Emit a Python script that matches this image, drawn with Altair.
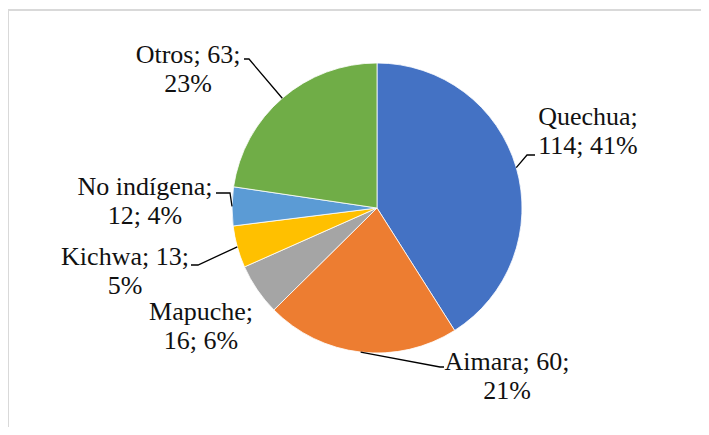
import math
import altair as alt
import pandas as pd

# ---- data ----
categories = ["Quechua", "Aimara", "Mapuche", "Kichwa", "No indígena", "Otros"]
counts = [114, 60, 16, 13, 12, 63]
percents = [41, 21, 6, 5, 4, 23]
colors = ["#4472C4", "#ED7D31", "#A5A5A5", "#FFC000", "#5B9BD5", "#70AD47"]

# ---- layout (not data) ----
W, H = 693, 419
CX, CY, R = 369, 200, 145
FONT = "Liberation Serif"
FS = 26
LH = 29
# how many label parts go on the first line
first_line_parts = [1, 2, 1, 2, 1, 2]
# first-line baseline anchor of each label, relative to the pie centre
label_offsets = [(211, -83), (130, 162), (-176, 112), (-252, 57), (-232, -13), (-189, -145)]
# leader line: (elbow, end) relative to label anchor; None = no leader
leaders = [((-61, 30), (-53, 30)), ((-67, -3), (-63, -3)), None,
           ((73, 0), (66, 0)), ((85, -2), (71, -2)), ((61, -4), (56, -4))]

total = sum(counts)
pie_df = pd.DataFrame({"cat": categories, "count": counts, "idx": range(len(categories))})

text_rows, line_rows = [], []
cum = 0
for i, (c, n, p) in enumerate(zip(categories, counts, percents)):
    mid = (cum + n / 2) / total * 2 * math.pi
    cum += n
    parts = [c, str(n), f"{p}%"]
    k = first_line_parts[i]
    label = "; ".join(parts[:k]) + ";\n" + "; ".join(parts[k:])
    ax, ay = CX + label_offsets[i][0], CY + label_offsets[i][1]
    text_rows.append({"cat": c, "label": label, "x": ax, "y": ay})
    if leaders[i] is not None:
        ex, ey = CX + R * math.sin(mid), CY - R * math.cos(mid)
        (bx, by), (tx, ty) = leaders[i]
        pts = [(ex, ey), (ax + bx, ay + by), (ax + tx, ay + ty)]
        for j, (px, py) in enumerate(pts):
            line_rows.append({"cat": c, "o": j, "x": px, "y": py})

text_df = pd.DataFrame(text_rows)
line_df = pd.DataFrame(line_rows)

pie = alt.Chart(pie_df).mark_arc(radius=R, stroke="white", strokeWidth=0.8).encode(
    theta=alt.Theta("count:Q", stack=True),
    order=alt.Order("idx:Q"),
    color=alt.Color("cat:N", scale=alt.Scale(domain=categories, range=colors), legend=None),
    x=alt.value(CX),
    y=alt.value(CY),
)

lines = alt.Chart(line_df).mark_line(color="#000000", strokeWidth=1.3).encode(
    x=alt.X("x:Q", scale=None, axis=None),
    y=alt.Y("y:Q", scale=None, axis=None),
    detail="cat:N",
    order="o:Q",
)

texts = alt.Chart(text_df).mark_text(
    font=FONT, fontSize=FS, lineHeight=LH, lineBreak="\n",
    align="center", baseline="alphabetic", color="#111111",
).encode(
    x=alt.X("x:Q", scale=None, axis=None),
    y=alt.Y("y:Q", scale=None, axis=None),
    text="label:N",
)

border_top = alt.Chart(pie_df).mark_rule(color="#D9D9D9", strokeWidth=2).encode(
    x=alt.value(0), x2=alt.value(W + 10), y=alt.value(2)
)
border_left = alt.Chart(pie_df).mark_rule(color="#D9D9D9", strokeWidth=2).encode(
    x=alt.value(0), y=alt.value(2), y2=alt.value(H + 10)
)

chart = alt.layer(border_top, border_left, pie, lines, texts).properties(
    width=W, height=H, autosize=alt.AutoSizeParams(type="none"), padding=0,
    background="white",
).configure_view(stroke=None)

chart.save("out.html", embed_options={"renderer": "svg", "actions": False})
